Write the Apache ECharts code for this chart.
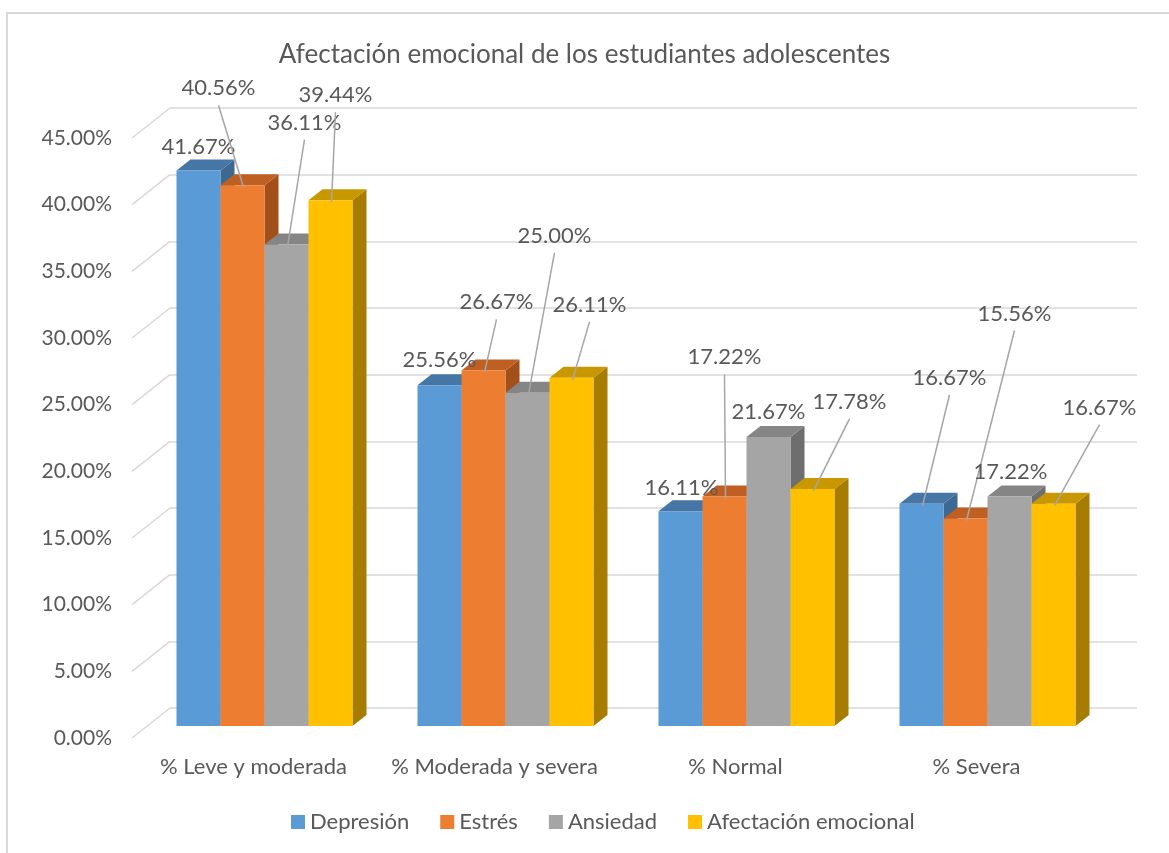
<!DOCTYPE html>
<html>
<head>
<meta charset="utf-8">
<title>Afectación emocional</title>
<script src="https://cdn.jsdelivr.net/npm/echarts@6/dist/echarts.min.js"></script>
<style>
  html, body { margin: 0; padding: 0; background: #fff; }
  #chart { width: 1169px; height: 853px; }
</style>
</head>
<body>
<div id="chart"></div>
<script>
// datos
var categorias = ['% Leve y moderada', '% Moderada y severa', '% Normal', '% Severa'];
var depresion = [41.67, 25.56, 16.11, 16.67];
var estres = [40.56, 26.67, 17.22, 15.56];
var ansiedad = [36.11, 25.00, 21.67, 17.22];
var afectacion = [39.44, 26.11, 17.78, 16.67];
var nombres = ['Depresión', 'Estrés', 'Ansiedad', 'Afectación emocional'];
var yTicks = [0, 5, 10, 15, 20, 25, 30, 35, 40, 45];

var series_data = [depresion, estres, ansiedad, afectacion];

// estilos
var colores = ['#5b9bd5', '#ed7d31', '#a5a5a5', '#ffc000'];
var coloresTop = ['#4676a6', '#c05f22', '#858585', '#c99800'];
var coloresLado = ['#3c6891', '#a24f1a', '#6e6e6e', '#a67d00'];
var BAR_W = 44, DEPTH_X = 14, DEPTH_Y = 11;
var textColor = '#595959';

// posicion de etiquetas respecto a la cara superior de la barra [dx, dy]
var labelOffsets = [
    [[0, -23], [0, -25], [1, -23], [28, -126]],
    [[-24, -97], [13, -68], [0, -139], [49, -205]],
    [[18, -122], [27, -157], [0, -25], [1, -24]],
    [[5, -105], [18, -73], [37, -87], [46, -96]]
];

var chart = echarts.init(document.getElementById('chart'));

function fmt(v) {
    return v.toFixed(2) + '%';
}

function barItem(s) {
    return function (params, api) {
        var cat = api.value(0);
        var val = api.value(1);
        var top = api.coord([cat, val]);
        var base = api.coord([cat, 0]);
        var x0 = top[0] - 2 * BAR_W + s * BAR_W;
        var x1 = x0 + BAR_W;
        var y0 = top[1], yb = base[1];
        return {
            type: 'group',
            children: [
                {
                    type: 'polygon',
                    shape: { points: [[x1, y0], [x1 + DEPTH_X, y0 - DEPTH_Y], [x1 + DEPTH_X, yb - DEPTH_Y], [x1, yb]] },
                    style: { fill: coloresLado[s] }
                },
                {
                    type: 'polygon',
                    shape: { points: [[x0, y0], [x1, y0], [x1 + DEPTH_X, y0 - DEPTH_Y], [x0 + DEPTH_X, y0 - DEPTH_Y]] },
                    style: { fill: coloresTop[s] }
                },
                {
                    type: 'rect',
                    shape: { x: x0, y: y0, width: BAR_W, height: yb - y0 },
                    style: { fill: colores[s] }
                }
            ]
        };
    };
}

var labelData = [];
for (var s = 0; s < series_data.length; s++) {
    for (var c = 0; c < categorias.length; c++) {
        labelData.push([c, series_data[s][c], s]);
    }
}

var series = [];
// diagonales del piso / pared lateral
series.push({
    type: 'custom',
    xAxisIndex: 2,
    yAxisIndex: 2,
    silent: true,
    z: 1,
    data: yTicks.map(function (t) { return [0, t]; }),
    renderItem: function (params, api) {
        var p = api.coord([0, api.value(1)]);
        var x = params.coordSys.x;
        return {
            type: 'line',
            shape: { x1: x - 38, y1: p[1] + 30, x2: x, y2: p[1] },
            style: { stroke: '#d9d9d9', lineWidth: 1.5 }
        };
    }
});

for (var i = 0; i < series_data.length; i++) {
    series.push({
        name: nombres[i],
        type: 'custom',
        xAxisIndex: 0,
        yAxisIndex: 0,
        z: 2 + i,
        itemStyle: { color: colores[i] },
        data: series_data[i].map(function (v, c) { return [c, v]; }),
        renderItem: barItem(i)
    });
}

// etiquetas con lineas guia
series.push({
    type: 'custom',
    xAxisIndex: 0,
    yAxisIndex: 0,
    silent: true,
    z: 10,
    data: labelData,
    renderItem: function (params, api) {
        var cat = api.value(0), val = api.value(1), s = api.value(2);
        var top = api.coord([cat, val]);
        var cx = top[0] - 2 * BAR_W + s * BAR_W + BAR_W / 2;
        var off = labelOffsets[s][cat];
        var lx = cx + off[0], ly = top[1] + off[1];
        var children = [{
            type: 'text',
            style: {
                x: lx, y: ly, text: fmt(val),
                fill: textColor, font: '22px Lato',
                align: 'center', verticalAlign: 'middle'
            }
        }];
        if (Math.abs(off[1]) > 40) {
            children.push({
                type: 'line',
                shape: { x1: lx, y1: ly + 17, x2: cx + 1, y2: top[1] + 2 },
                style: { stroke: '#a6a6a6', lineWidth: 1.5 }
            });
        }
        return { type: 'group', children: children };
    }
});

var option = {
    backgroundColor: '#fff',
    textStyle: { fontFamily: 'Lato' },
    title: {
        text: 'Afectación emocional de los estudiantes adolescentes',
        left: 'center',
        top: 37,
        textStyle: { fontSize: 26, fontWeight: 'normal', color: textColor, fontFamily: 'Lato' }
    },
    legend: {
        data: nombres,
        bottom: 15,
        left: 286,
        icon: 'rect',
        itemWidth: 14,
        itemHeight: 14,
        itemGap: 31,
        textStyle: { fontSize: 22, color: textColor, fontFamily: 'Lato' }
    },
    graphic: [{
        type: 'rect',
        shape: { x: 7, y: 13, width: 1200, height: 900 },
        style: { fill: 'none', stroke: '#d9d9d9', lineWidth: 2 },
        silent: true
    }],
    grid: [
        { left: 144, right: 61, top: 126, bottom: 127 },   // plano de las barras
        { left: 133, right: 72, top: 138, bottom: 115 },   // plano frontal (ejes)
        { left: 170, right: 32, top: 108, bottom: 145 }    // pared de fondo
    ],
    xAxis: [
        { type: 'category', gridIndex: 0, data: categorias, show: false },
        {
            type: 'category', gridIndex: 1, data: categorias,
            axisLine: { show: false }, axisTick: { show: false },
            axisLabel: { fontSize: 22, color: textColor, margin: 18, interval: 0, fontFamily: 'Lato' }
        },
        { type: 'category', gridIndex: 2, data: categorias, show: false }
    ],
    yAxis: [
        { type: 'value', gridIndex: 0, min: 0, max: 45, interval: 5, show: false },
        {
            type: 'value', gridIndex: 1, min: 0, max: 45, interval: 5,
            axisLine: { show: false }, axisTick: { show: false }, splitLine: { show: false },
            axisLabel: {
                fontSize: 21, color: textColor, margin: 21, fontFamily: 'Lato',
                formatter: function (v) { return v.toFixed(2) + '%'; }
            }
        },
        {
            type: 'value', gridIndex: 2, min: 0, max: 45, interval: 5,
            axisLine: { show: false }, axisTick: { show: false }, axisLabel: { show: false },
            splitLine: { lineStyle: { color: '#d9d9d9', width: 1.5 } }
        }
    ],
    series: series
};

chart.setOption(option);
window.addEventListener('resize', function () {
    chart.resize();
});
</script>
</body>
</html>
